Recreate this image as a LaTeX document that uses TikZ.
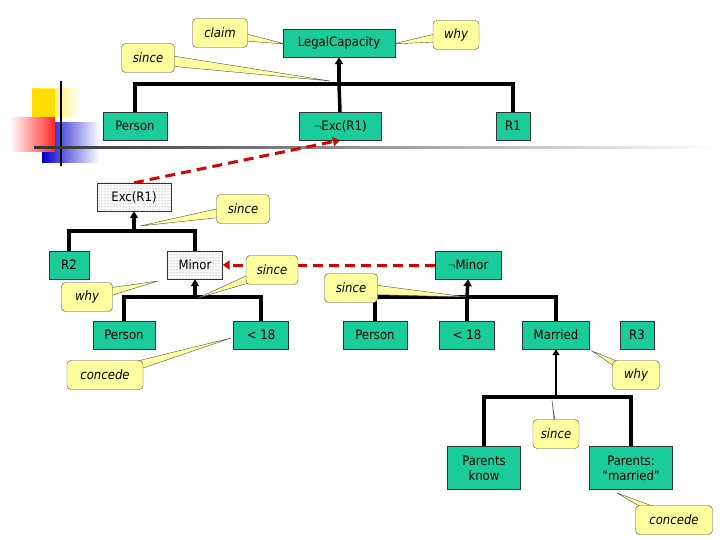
\documentclass[tikz,border=0pt]{standalone}
\usepackage{fontspec}
\setmainfont{DejaVu Sans Condensed}
\usetikzlibrary{arrows.meta,patterns,calc}
\definecolor{bx}{RGB}{26,204,153}
\definecolor{cl}{RGB}{255,255,160}
\begin{document}
\begin{tikzpicture}[x=1pt,y=-1pt,
  bo/.style={draw=black!80,fill=bx,inner sep=0pt,font=\fontsize{13}{15}\selectfont,align=center},
  dt/.style={draw=black!80,pattern=dots,pattern color=black!60,inner sep=0pt,font=\fontsize{13}{15}\selectfont},
  ca/.style={draw=black!70,fill=cl,rounded corners=4pt,inner sep=0pt,font=\fontsize{13}{15}\selectfont\itshape},
  wedge/.style={draw=black!70,fill=cl},
  bar/.style={line width=3.5pt},
  up/.style={line width=3.5pt,-{Triangle[length=7pt,width=8pt]}},
  red/.style={draw=red!85!black,line width=3pt,dash pattern=on 10pt off 6pt,-{Triangle[length=7pt,width=9pt]}}]
\useasboundingbox (0,0) rectangle (720,540);
% logo
\shade[left color=yellow!80!orange,right color=white] (32,89) rectangle (80,117);
\fill[yellow!80!orange] (32,89) rectangle (55,117);
\shade[left color=blue!80!black,right color=white] (42,123) rectangle (100,163);
\shade[left color=white,right color=red!85] (10,118) rectangle (55,152);
\draw[line width=1.2pt] (61,81) -- (61,166);
\shade[left color=black!80,right color=white] (34,146.5) rectangle (720,148.5);
% boxes
\node[bo,minimum width=112,minimum height=28] (lc) at (339,43) {LegalCapacity};
\node[bo,minimum width=64,minimum height=28] (p1) at (135,126) {Person};
\node[bo,minimum width=82,minimum height=28] (ne) at (340,126) {$\neg$Exc(R1)};
\node[bo,minimum width=34,minimum height=28] (r1) at (513,126) {R1};
\node[dt,minimum width=74,minimum height=28] (ex) at (134,197) {Exc(R1)};
\node[bo,minimum width=40,minimum height=28] (r2) at (69,265) {R2};
\node[dt,minimum width=55,minimum height=28] (mi) at (195,265) {Minor};
\node[bo,minimum width=66,minimum height=28] (nm) at (468,265) {$\neg$Minor};
\node[bo,minimum width=62,minimum height=28] (p2) at (124,335) {Person};
\node[bo,minimum width=55,minimum height=28] (l1) at (261,335) {< 18};
\node[bo,minimum width=64,minimum height=28] (p3) at (375,335) {Person};
\node[bo,minimum width=55,minimum height=28] (l2) at (467,335) {< 18};
\node[bo,minimum width=67,minimum height=28] (ma) at (556,335) {Married};
\node[bo,minimum width=34,minimum height=28] (r3) at (637,335) {R3};
\node[bo,minimum width=73,minimum height=43] (pk) at (484,468) {Parents\\know};
\node[bo,minimum width=83,minimum height=43] (pm) at (631,468) {Parents:\\“married”};
% tree 1
\coordinate (j1) at (339,84);
\draw[bar] (p1.north) |- (j1) -| (r1.north);
\draw[bar] (ne.north) -- (j1);
\draw[up] (j1) -- (lc.south);
% tree 2
\coordinate (j2) at (134,231);
\draw[bar] (r2.north) |- (j2) -| (mi.north);
\draw[up] (j2) -- (ex.south);
% tree 3
\coordinate (j3) at (195,297);
\draw[bar] (p2.north) |- (j3) -| (l1.north);
\draw[up] (j3) -- (mi.south);
% tree 4
\coordinate (j4) at (467,297);
\draw[bar] (p3.north) |- (j4) -| (ma.north);
\draw[bar] (l2.north) -- (j4);
\draw[up] (j4) -- (nm.south);
% tree 5
\coordinate (j5) at (556,397);
\draw[line width=4pt] (pk.north) |- (j5) -| (pm.north);
\draw[line width=2.5pt,-{Triangle[length=6pt,width=7pt]}] (j5) -- (ma.south);
% red dashed
\draw[red] (ex.north) -- (ne.south);
\draw[red] (nm.west) -- (mi.east);
% callouts
\newcommand\callout[5]{% name, center, size(w,h), text, tip
  \path (#2) coordinate (#1c);
  \draw[wedge] ($(#1c)+(0,-6)$) -- (#5) -- ($(#1c)+(0,6)$) -- cycle;
  \node[ca,minimum width=#3,minimum height=29] (#1) at (#1c) {#4};}
\callout{c1}{148,58}{53}{since}{330,81}
\callout{c2}{220,33}{55}{claim}{285,44}
\callout{c3}{456,35}{46}{why}{393,44}
\callout{c4}{243,209}{53}{since}{140,226}
\callout{c5}{272,270}{52}{since}{198,298}
\callout{c6}{351,288}{53}{since}{467,297}
\callout{c7}{87,297}{51}{why}{158,281}
\callout{c8}{105,375}{76}{concede}{231,338}
\callout{c9}{636,375}{47}{why}{592,351}
\callout{c10}{556,434}{46}{since}{552,400}
\callout{c11}{674,520}{77}{concede}{617,493}
\end{tikzpicture}
\end{document}
